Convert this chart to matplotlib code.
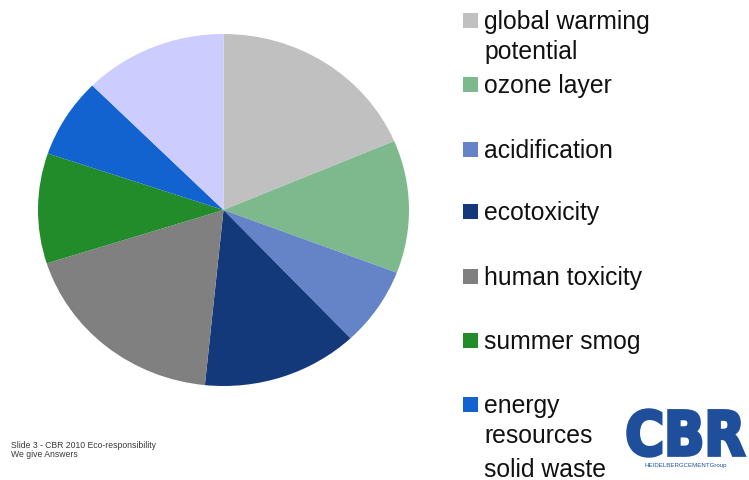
import matplotlib.pyplot as plt
from matplotlib.patches import Rectangle, PathPatch
from matplotlib.textpath import TextPath
from matplotlib.font_manager import FontProperties
from matplotlib.transforms import Affine2D

plt.rcParams['font.family'] = ['Liberation Sans', 'DejaVu Sans']

# impact categories and their share of the total (%)
labels = ['global warming\npotential', 'ozone layer', 'acidification', 'ecotoxicity',
          'human toxicity', 'summer smog', 'energy\nresources', 'solid waste']
shares = [18.6, 12.2, 7.2, 13.6, 18.5, 10.1, 7.3, 12.5]
colors = ['#C0C0C0', '#7DB98C', '#6584C8', '#13397A',
          '#808080', '#228B2A', '#1262D0', '#CCCCFF']

footer = ['Slide 3 - CBR 2010 Eco-responsibility', 'We give Answers']

W, H = 749, 481
fig = plt.figure(figsize=(W / 100, H / 100), dpi=100)

# pie, drawn slightly wider than tall
ax = fig.add_axes([38 / W, 1 - 387 / H, 371 / W, 352 / H])
ax.pie(shares, colors=colors, startangle=90, counterclock=False,
       radius=1, wedgeprops=dict(linewidth=0))
ax.set_aspect('auto')
ax.set_xlim(-1, 1)
ax.set_ylim(-1, 1)
ax.axis('off')

# overlay in pixel coordinates for the legend, footer and logo
ov = fig.add_axes([0, 0, 1, 1])
ov.set_xlim(0, W)
ov.set_ylim(H, 0)
ov.axis('off')

legend_y = [22, 86, 151, 213, 278, 342, 406, 470]
line_gap = 30
for i, (lab, col, y) in enumerate(zip(labels, colors, legend_y)):
    if i < 7:
        ov.add_patch(Rectangle((463, y - 8), 15, 15, facecolor=col, edgecolor='none'))
    for k, line in enumerate(lab.split('\n')):
        ov.text(484, y + k * line_gap, line, fontsize=17.8, color='#111111',
                va='center', ha='left')

for k, line in enumerate(footer):
    ov.text(11, 446 + k * 9, line, fontsize=6.2, color='#3a3a3a', va='center', ha='left')

# CBR logo
tp = TextPath((0, 0), 'CBR', size=1, prop=FontProperties(family='DejaVu Sans', weight='bold'))
ext = tp.get_extents()
tr = (Affine2D().translate(-ext.x0, -ext.y0)
      .scale(116 / ext.width, -46 / ext.height).translate(628, 457))
ov.add_patch(PathPatch(tr.transform_path(tp), facecolor='#1F4E9B', edgecolor='#1F4E9B',
                       linewidth=2.5, joinstyle='miter'))
ov.text(686, 466, 'HEIDELBERGCEMENTGroup', fontsize=4.4, color='#1F4E9B',
        ha='center', va='center')

fig.savefig('out.png', dpi=100, facecolor='white')
